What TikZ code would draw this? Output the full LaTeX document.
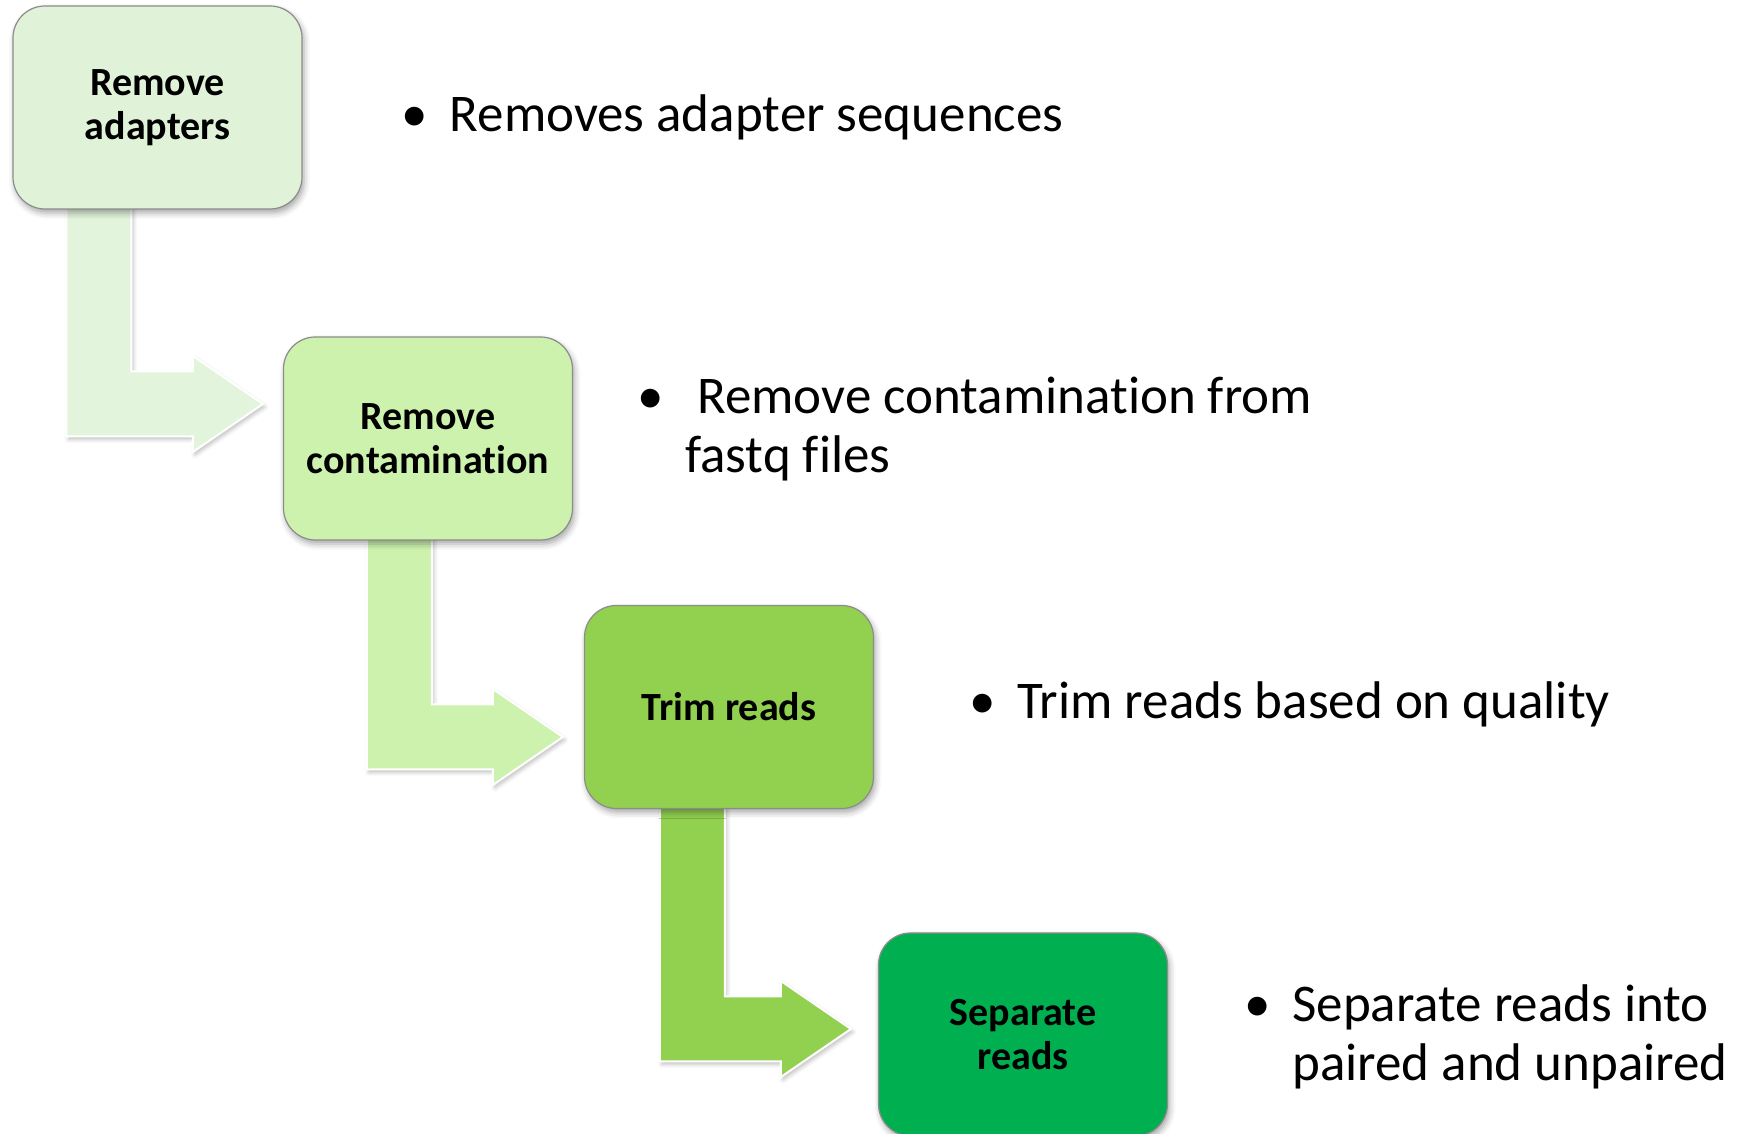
\documentclass[tikz,border=0pt]{standalone}
\usepackage{fontspec}
\setmainfont{Carlito}[Ligatures=NoCommon]
\usepackage{xcolor}
\usetikzlibrary{positioning, calc, backgrounds, shadows.blur}

\definecolor{stepA}{HTML}{E0F3D8}
\definecolor{stepB}{HTML}{CDF2AE}
\definecolor{stepC}{HTML}{92D050}
\definecolor{stepD}{HTML}{00B050}
\definecolor{flowA}{HTML}{E2F4DC}

% bullet with the gap before the item text
\newcommand{\bul}{\makebox[70pt][c]{\textbullet}}

% bent block arrow: colour, upper box, stem offset, tip
\newcommand{\steparrow}[4]{%
  \path[flow, fill=#1] let \p1=(#2.south west), \p2=(#4) in
    (\x1+#3pt, \y1+20pt) -- (\x1+#3pt+65pt, \y1+20pt)
    -- (\x1+#3pt+65pt, \y2+32.5pt) -- (\x2-70pt, \y2+32.5pt)
    -- (\x2-70pt, \y2+48pt) -- (\p2) -- (\x2-70pt, \y2-48pt)
    -- (\x2-70pt, \y2-32.5pt) -- (\x1+#3pt, \y2-32.5pt) -- cycle;}

\begin{document}
\begin{tikzpicture}[x=1pt, y=1pt,
  stepbox/.style={rectangle, rounded corners=32pt,
    minimum width=289pt, minimum height=203pt,
    draw=black!45, line width=1.2pt, align=center,
    font=\fontsize{40}{44}\selectfont\bfseries,
    blur shadow={shadow xshift=2pt, shadow yshift=-4pt,
                 shadow blur radius=6pt, shadow opacity=35}},
  note/.style={anchor=west, inner sep=0pt, align=left,
    font=\fontsize{53}{59}\selectfont},
  flow/.style={draw=white, line width=2pt,
    blur shadow={shadow xshift=2pt, shadow yshift=-3pt,
                 shadow blur radius=4pt, shadow opacity=25}}]

\useasboundingbox (0,0) rectangle (1740,1134);

\node[stepbox, fill=stepA] (adapt) at (157.5,1026.5) {Remove\\adapters};
\node[stepbox, fill=stepB] (contam) at (428,695.5) {Remove\\contamination};
\node[stepbox, fill=stepC] (trim) at (729,427) {Trim reads};
\node[stepbox, fill=stepD] (sep) at (1023,99.5) {Separate\\reads};

\node[note, right=77pt of adapt, yshift=-10pt] (noteA)
  {\bul Removes adapter sequences};
\node[note, right=42pt of contam, yshift=9pt] (noteB)
  {\bul\ Remove contamination from\\\hspace*{70pt}fastq files};
\node[note, right=73pt of trim, yshift=3pt] (noteC)
  {\bul Trim reads based on quality};
\node[note, right=54pt of sep, yshift=-2pt] (noteD)
  {\bul Separate reads into\\\hspace*{70pt}paired and unpaired};

\coordinate (tipA) at ($(contam.west)+(-20,34.5)$);
\coordinate (tipB) at ($(trim.west)+(-21,-30)$);
\coordinate (tipC) at ($(sep.west)+(-27,5.5)$);

\begin{scope}[on background layer]
  \steparrow{flowA}{adapt}{54}{tipA}
  \steparrow{stepB}{contam}{84}{tipB}
  \steparrow{stepC}{trim}{76}{tipC}
\end{scope}
\end{tikzpicture}
\end{document}
